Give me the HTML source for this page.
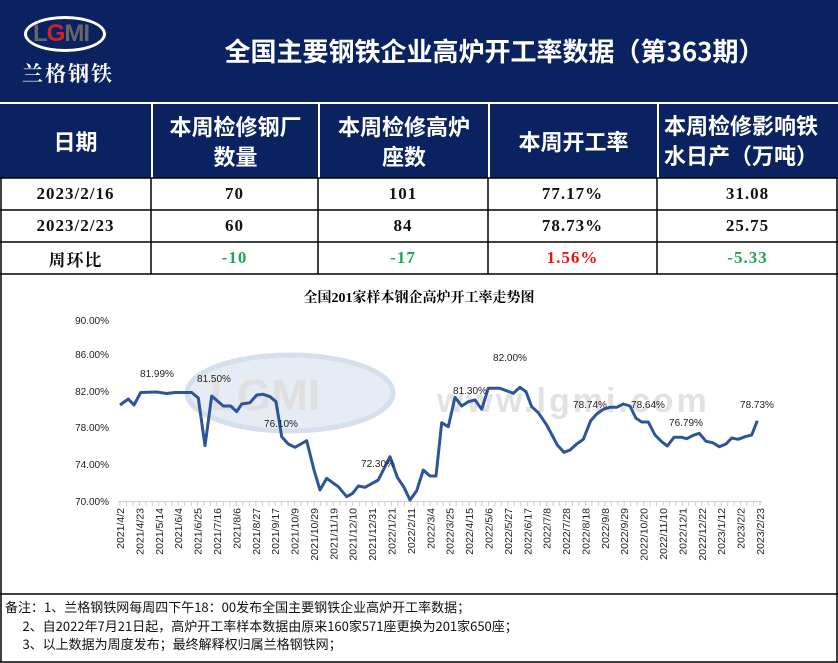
<!DOCTYPE html>
<html><head><meta charset="utf-8"><style>
body{margin:0;width:838px;height:663px;position:relative;background:#fff;overflow:hidden;font-family:"Liberation Sans","Noto Sans CJK SC",sans-serif}
.a{position:absolute;box-sizing:border-box}
.nv{background:#0b2260;color:#fff;font-weight:bold}
.c{display:flex;align-items:center;justify-content:center;text-align:center}
.d{font-family:"Liberation Serif","Noto Serif CJK SC",serif;font-size:17px;font-weight:bold;color:#111;letter-spacing:1px}
</style></head><body>
<div class="a nv" style="left:0;top:0;width:838px;height:178px"></div>
<div class="a" style="left:24px;top:16px;width:82px;height:36px;border:3px solid #fff;border-radius:50%;"></div>
<div class="a" style="left:33px;top:20px;font:bold 24px 'Liberation Sans';color:#666;letter-spacing:-1px;line-height:28px"><span>L</span><span style="color:#d0202a">G</span>MI</div>
<div class="a" style="left:22px;top:58px;color:#fff;font:bold 21px 'Noto Serif CJK SC',serif;letter-spacing:2px">兰格钢铁</div>
<div class="a c" style="left:151px;top:22px;width:687px;height:56px;color:#fff;font-weight:bold;font-size:26px;font-family:'Noto Sans CJK SC',sans-serif">全国主要钢铁企业高炉开工率数据（第363期）</div>
<div class="a" style="left:0;top:102px;width:838px;height:2px;background:#fff"></div>
<div class="a" style="left:151px;top:104px;width:2px;height:74px;background:#fff"></div>
<div class="a" style="left:318px;top:104px;width:2px;height:74px;background:#fff"></div>
<div class="a" style="left:488px;top:104px;width:2px;height:74px;background:#fff"></div>
<div class="a" style="left:657px;top:104px;width:2px;height:74px;background:#fff"></div>
<div style="font-family:'Noto Sans CJK SC',sans-serif;font-weight:bold;color:#fff;font-size:22px;line-height:30px">
<div class="a c" style="left:0;top:104px;width:151px;height:74px">日期</div>
<div class="a c" style="left:152px;top:104px;width:167px;height:74px">本周检修钢厂<br>数量</div>
<div class="a c" style="left:319px;top:104px;width:170px;height:74px">本周检修高炉<br>座数</div>
<div class="a c" style="left:489px;top:104px;width:169px;height:74px">本周开工率</div>
<div class="a" style="left:664px;top:110px;width:174px;height:74px;text-align:left">本周检修影响铁<br>水日产（万吨）</div>
</div>
<svg class="a" style="left:0;top:0" width="838" height="663">
<g stroke="#000" stroke-width="1.5" fill="none">
<line x1="0" y1="178" x2="838" y2="178"/><line x1="0" y1="210" x2="838" y2="210"/><line x1="0" y1="242" x2="838" y2="242"/><line x1="0" y1="274" x2="838" y2="274"/>
<line x1="151" y1="178" x2="151" y2="274"/><line x1="318" y1="178" x2="318" y2="274"/><line x1="488" y1="178" x2="488" y2="274"/><line x1="657" y1="178" x2="657" y2="274"/>
<line x1="1" y1="178" x2="1" y2="662"/><line x1="837" y1="178" x2="837" y2="662"/><line x1="0" y1="594" x2="838" y2="594"/><line x1="0" y1="662" x2="838" y2="662"/>
</g>
</svg>
<div class="d">
<div class="a c" style="left:0;top:178px;width:151px;height:32px">2023/2/16</div>
<div class="a c" style="left:151px;top:178px;width:167px;height:32px">70</div>
<div class="a c" style="left:318px;top:178px;width:170px;height:32px">101</div>
<div class="a c" style="left:488px;top:178px;width:169px;height:32px">77.17%</div>
<div class="a c" style="left:657px;top:178px;width:181px;height:32px">31.08</div>
<div class="a c" style="left:0;top:210px;width:151px;height:32px">2023/2/23</div>
<div class="a c" style="left:151px;top:210px;width:167px;height:32px">60</div>
<div class="a c" style="left:318px;top:210px;width:170px;height:32px">84</div>
<div class="a c" style="left:488px;top:210px;width:169px;height:32px">78.73%</div>
<div class="a c" style="left:657px;top:210px;width:181px;height:32px">25.75</div>
<div class="a c" style="left:0;top:242px;width:151px;height:32px">周环比</div>
<div class="a c" style="left:151px;top:242px;width:167px;height:32px;color:#1aaa50">-10</div>
<div class="a c" style="left:318px;top:242px;width:170px;height:32px;color:#1aaa50">-17</div>
<div class="a c" style="left:488px;top:242px;width:169px;height:32px;color:#f01010">1.56%</div>
<div class="a c" style="left:657px;top:242px;width:181px;height:32px;color:#1aaa50">-5.33</div>
</div>
<div class="a c" style="left:0;top:287px;width:838px;height:20px;font:bold 14px 'Liberation Serif','Noto Serif CJK SC',serif">全国201家样本钢企高炉开工率走势图</div>
<svg class="a" style="left:0;top:0" width="838" height="663" font-family="Liberation Sans, sans-serif">
<ellipse cx="290" cy="393" rx="103" ry="38" fill="#e6ecf4" stroke="#d6e0ec" stroke-width="5"/>
<text x="210" y="410" font-size="44" font-weight="bold" fill="#e0e0e0">LGMI</text>
<text x="437" y="412" font-size="34" font-weight="bold" fill="#e2e2e2" letter-spacing="3">www.lgmi.com</text>
<g font-size="10" fill="#222" text-anchor="end">
<text x="109" y="324">90.00%</text><text x="109" y="358">86.00%</text><text x="109" y="395">82.00%</text><text x="109" y="431">78.00%</text><text x="109" y="468">74.00%</text><text x="109" y="505">70.00%</text>
</g>
<line x1="118" y1="501.5" x2="762" y2="501.5" stroke="#d0d0d0"/>
<g stroke="#d0d0d0" id="tk"></g>
<polyline fill="none" stroke="#2e5597" stroke-width="3" stroke-linejoin="round" points="120,405 128.3,399 134,405 140.7,392.5 156.7,392 166.7,393.5 175,392.5 191.7,392.5 198.3,398 205,445.7 211.7,396 223.3,406 230.7,406 236.7,411.7 241.7,404 250,402.7 256.7,395 263.3,394.3 270,396.7 276,401.7 281.7,436.7 288.3,444 295,447.3 306.7,440.7 314,470 320,490 326.7,478.3 338.3,486.7 346.7,496.7 352.7,493.3 358.3,486 365,487.3 378.3,480 390,456.7 397.3,477.3 404,487.3 410,500 416.7,490.7 423.3,470 430,476 436,476 441.7,422.7 448.3,426.7 455,397.3 461.7,406 468.3,401.7 475,400 481.7,409.3 488.3,388.3 500,388.3 513.3,393.3 520,387.3 526,391.7 531.7,406.7 538.3,412.7 546.7,425 557.3,445 564,452.3 570,450 576.7,444 583.3,439.3 590.7,420.7 596.7,414 603.3,409.3 610,407.3 616.7,407.3 623.3,404 630,406 636,418.3 641.7,422 648.3,422 655,435 661.7,441.7 667.3,446 674,437.3 681.7,437.3 686.7,438.7 693.3,435.3 699.3,433.3 706,441.3 712.7,442.7 719.3,446.7 726,444 731.7,438 738.3,439.3 745,436.7 751.7,435 757.3,420.7"/>
<g font-size="10" fill="#222" text-anchor="middle">
<text x="157" y="377">81.99%</text><text x="214" y="382">81.50%</text><text x="281" y="427">76.10%</text><text x="378" y="467">72.30%</text><text x="470" y="394">81.30%</text><text x="510" y="361">82.00%</text><text x="590" y="408">78.74%</text><text x="648" y="408">78.64%</text><text x="686" y="426">76.79%</text><text x="757" y="408">78.73%</text>
</g>
<g font-size="10.5" fill="#222" text-anchor="end" id="xl"></g>
</svg>
<div class="a" style="left:5px;top:598px;font:13px 'Noto Sans CJK SC',sans-serif;line-height:18.5px;color:#111;white-space:pre">备注：1、兰格钢铁网每周四下午18：00发布全国主要钢铁企业高炉开工率数据；
      2、自2022年7月21日起，高炉开工率样本数据由原来160家571座更换为201家650座；
      3、以上数据为周度发布；最终解释权归属兰格钢铁网；</div>
<script>
var L="2021/4/2,2021/4/23,2021/5/14,2021/6/4,2021/6/25,2021/7/16,2021/8/6,2021/8/27,2021/9/17,2021/10/9,2021/10/29,2021/11/19,2021/12/10,2021/12/31,2022/1/21,2022/2/11,2022/3/4,2022/3/25,2022/4/15,2022/5/6,2022/5/27,2022/6/17,2022/7/8,2022/7/28,2022/8/18,2022/9/8,2022/9/29,2022/10/20,2022/11/10,2022/12/1,2022/12/22,2023/1/12,2023/2/2,2023/2/23".split(",");
var ns="http://www.w3.org/2000/svg",g=document.getElementById("xl"),t=document.getElementById("tk");
L.forEach(function(s,i){var x=120+i*640/33;var e=document.createElementNS(ns,"text");e.setAttribute("transform","translate("+(x+4)+",508) rotate(-90)");e.textContent=s;g.appendChild(e);});
for(var i=0;i<100;i++){var x=120+i*640/99;var l=document.createElementNS(ns,"line");l.setAttribute("x1",x);l.setAttribute("x2",x);l.setAttribute("y1",501);l.setAttribute("y2",506);t.appendChild(l);}
</script>
</body></html>
